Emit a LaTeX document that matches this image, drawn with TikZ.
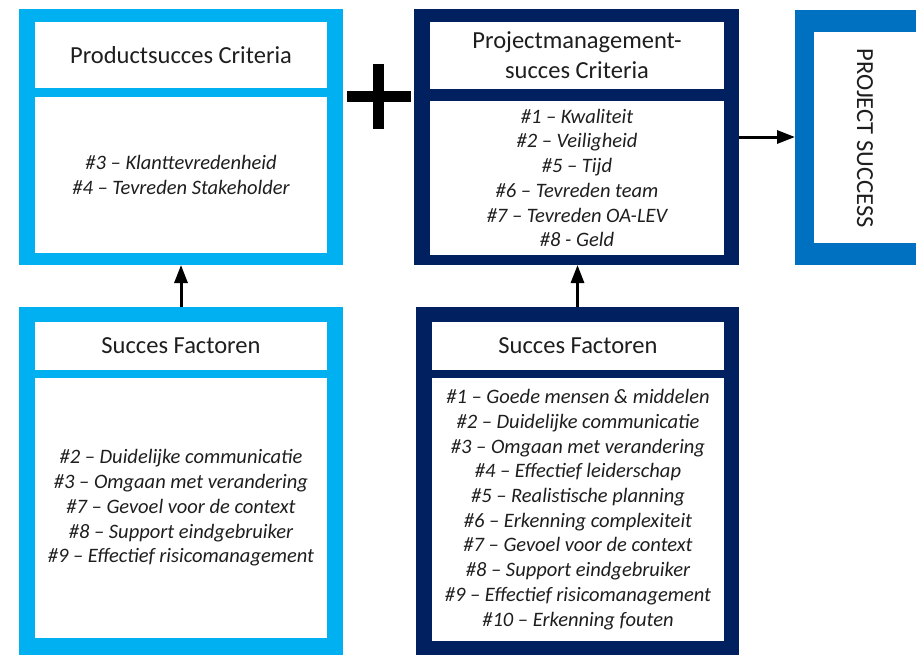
\documentclass[tikz,border=0pt]{standalone}
\usepackage{fontspec}
\setmainfont{Carlito}
\usetikzlibrary{arrows.meta}
\definecolor{lightblue}{RGB}{0,176,240}
\definecolor{navy}{RGB}{0,32,96}
\definecolor{midblue}{RGB}{0,112,192}
\definecolor{txt}{RGB}{30,30,30}
\tikzset{
  outerbox/.style={rectangle, inner sep=0pt, outer sep=0pt, anchor=north west, draw=none},
  innerbox/.style={rectangle, fill=white, inner sep=0pt, outer sep=0pt, anchor=north west, align=center, text=txt},
  head/.style={font=\fontsize{24.5pt}{30pt}\selectfont},
  body/.style={font=\fontsize{20.5pt}{24.7pt}\selectfont\itshape},
  conn/.style={-{Triangle[length=18pt,width=13pt]}, line width=3pt, draw=black},
}
\begin{document}
\begin{tikzpicture}[x=1pt,y=-1pt]
\clip (0,0) rectangle (916,654);
\fill[white] (0,0) rectangle (916,654);
% Productsucces Criteria
\node[outerbox, fill=lightblue, minimum width=324pt, minimum height=256pt] (pc) at (19,9) {};
\node[innerbox, head, minimum width=292pt, minimum height=66pt] (pch) at (35,22) {Productsucces Criteria};
\node[innerbox, body, minimum width=292pt, minimum height=156pt] (pcb) at (35,97) {\#3 – Klanttevredenheid\\\#4 – Tevreden Stakeholder};
% plus sign
\fill[black] (373,64) rectangle (384,129);
\fill[black] (347,91) rectangle (411,102);
% Projectmanagement-succes Criteria
\node[outerbox, fill=navy, minimum width=325pt, minimum height=256pt] (pm) at (414,9) {};
\node[innerbox, head, minimum width=294pt, minimum height=67pt] (pmh) at (430,22) {Projectmanagement-\\succes Criteria};
\node[innerbox, body, minimum width=294pt, minimum height=154pt] (pmb) at (430,101) {\#1 – Kwaliteit\\\#2 – Veiligheid\\\#5 – Tijd\\\#6 – Tevreden team\\\#7 – Tevreden OA-LEV\\\#8 - Geld};
% Project success
\node[outerbox, fill=midblue, minimum width=140pt, minimum height=255pt] (ps) at (795,10) {};
\node[innerbox, minimum width=120pt, minimum height=211pt] (psi) at (814,32) {};
\node[head, rotate=-90, text=txt, inner sep=0pt] (pst) at (865,138) {PROJECT SUCCESS};
% Succes Factoren (left)
\node[outerbox, fill=lightblue, minimum width=324pt, minimum height=360pt] (sf1) at (19,307) {};
\node[innerbox, head, minimum width=292pt, minimum height=48pt] (sf1h) at (35,322) {Succes Factoren};
\node[innerbox, body, minimum width=292pt, minimum height=260pt] (sf1b) at (35,378) {\#2 – Duidelijke communicatie\\\#3 – Omgaan met verandering\\\#7 – Gevoel voor de context\\\#8 – Support eindgebruiker\\\#9 – Effectief risicomanagement};
% Succes Factoren (right)
\node[outerbox, fill=navy, minimum width=323pt, minimum height=360pt] (sf2) at (416,307) {};
\node[innerbox, head, minimum width=292pt, minimum height=48pt] (sf2h) at (432,322) {Succes Factoren};
\node[innerbox, body, minimum width=292pt, minimum height=263pt] (sf2b) at (432,378) {\#1 – Goede mensen \& middelen\\\#2 – Duidelijke communicatie\\\#3 – Omgaan met verandering\\\#4 – Effectief leiderschap\\\#5 – Realistische planning\\\#6 – Erkenning complexiteit\\\#7 – Gevoel voor de context\\\#8 – Support eindgebruiker\\\#9 – Effectief risicomanagement\\\#10 – Erkenning fouten};
% connectors
\draw[conn] (sf1.north) -- (pc.south);
\draw[conn] (sf2.north) -- (sf2.north |- pm.south);
\draw[conn] (pm.east) -- (pm.east -| ps.west);
\end{tikzpicture}
\end{document}
